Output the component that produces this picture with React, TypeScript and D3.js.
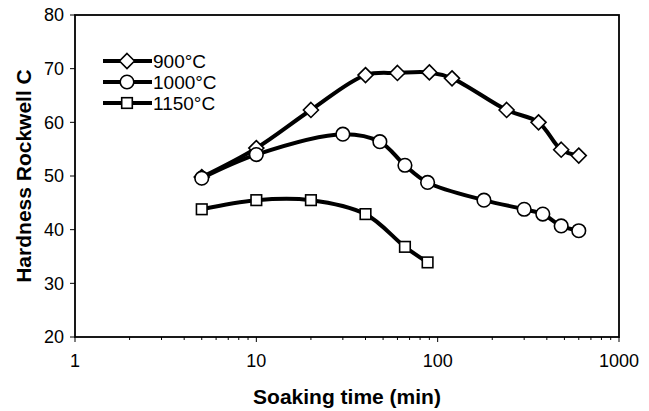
import React from "react";
import * as d3 from "d3";

const seriesNames = ["900°C", "1000°C", "1150°C"];
const markerTypes = ["diamond", "circle", "square"];

const time900 = [5, 10, 20, 40, 60, 90, 120, 240, 360, 480, 600];
const hard900 = [49.8, 55.2, 62.3, 68.8, 69.2, 69.3, 68.2, 62.3, 60.0, 54.9, 53.8];

const time1000 = [5, 10, 30, 48, 66, 88, 180, 300, 380, 480, 600];
const hard1000 = [49.6, 54.0, 57.8, 56.4, 52.0, 48.8, 45.5, 43.8, 42.9, 40.7, 39.8];

const time1150 = [5, 10, 20, 40, 66, 88];
const hard1150 = [43.8, 45.5, 45.5, 42.9, 36.8, 33.9];

const xTicks = [1, 10, 100, 1000];
const yTicks = [20, 30, 40, 50, 60, 70, 80];

const W = 649;
const H = 411;
const M = { left: 75, right: 619, top: 15, bottom: 337 };
const FONT = "'Liberation Sans', Arial, Helvetica, sans-serif";

function Marker({ type, x, y }: { type: string; x: number; y: number }) {
  const common = { fill: "#fff", stroke: "#000", strokeWidth: 1.6 };
  if (type === "diamond") {
    const r = 7.5;
    return (
      <path
        d={`M${x},${y - r}L${x + r},${y}L${x},${y + r}L${x - r},${y}Z`}
        {...common}
      />
    );
  }
  if (type === "circle") {
    return <circle cx={x} cy={y} r={6.8} {...common} />;
  }
  const s = 5.3;
  return <rect x={x - s} y={y - s} width={2 * s} height={2 * s} {...common} />;
}

export default function App() {
  const x = d3.scaleLog().domain([1, 1000]).range([M.left, M.right]);
  const y = d3.scaleLinear().domain([20, 80]).range([M.bottom, M.top]);

  const series = [
    { t: time900, v: hard900 },
    { t: time1000, v: hard1000 },
    { t: time1150, v: hard1150 },
  ];

  const line = d3
    .line<[number, number]>()
    .x((d) => x(d[0]))
    .y((d) => y(d[1]))
    .curve(d3.curveCatmullRom.alpha(0.5));

  const minor: number[] = [];
  for (let dec = 1; dec < 1000; dec *= 10) {
    for (let k = 2; k <= 9; k++) minor.push(dec * k);
  }

  const legendY = [61, 82, 103];

  return (
    <svg
      width={W}
      height={H}
      style={{ position: "absolute", left: 0, top: 0, background: "#fff" }}
      fontFamily={FONT}
    >
      <rect x={0} y={0} width={W} height={H} fill="#fff" />
      <rect
        x={M.left}
        y={M.top}
        width={M.right - M.left}
        height={M.bottom - M.top}
        fill="none"
        stroke="#000"
        strokeWidth={1.8}
      />
      {yTicks.map((t) => (
        <g key={"y" + t}>
          <line x1={M.left - 5} x2={M.left} y1={y(t)} y2={y(t)} stroke="#000" strokeWidth={1} />
          <text x={M.left - 11} y={y(t)} dy="0.35em" textAnchor="end" fontSize={18} fill="#000">
            {t}
          </text>
        </g>
      ))}
      {minor.map((t) => (
        <line key={"m" + t} x1={x(t)} x2={x(t)} y1={M.bottom} y2={M.bottom + 3} stroke="#000" strokeWidth={1} />
      ))}
      {xTicks.map((t) => (
        <g key={"x" + t}>
          <line x1={x(t)} x2={x(t)} y1={M.bottom} y2={M.bottom + 5} stroke="#000" strokeWidth={1} />
          <text x={x(t)} y={367} textAnchor="middle" fontSize={18} fill="#000">
            {t}
          </text>
        </g>
      ))}
      <text
        x={(M.left + M.right) / 2}
        y={404}
        textAnchor="middle"
        fontSize={21}
        fontWeight="bold"
        fill="#000"
      >
        Soaking time (min)
      </text>
      <text
        transform={`translate(31,${(M.top + M.bottom) / 2}) rotate(-90)`}
        textAnchor="middle"
        fontSize={21}
        fontWeight="bold"
        fill="#000"
      >
        Hardness Rockwell C
      </text>
      {series.map((s, i) => (
        <path
          key={"l" + i}
          d={line(s.t.map((t, j) => [t, s.v[j]] as [number, number])) || ""}
          fill="none"
          stroke="#000"
          strokeWidth={4}
          strokeLinejoin="round"
        />
      ))}
      {series.map((s, i) =>
        s.t.map((t, j) => (
          <Marker key={`p${i}-${j}`} type={markerTypes[i]} x={x(t)} y={y(s.v[j])} />
        ))
      )}
      {seriesNames.map((n, i) => (
        <g key={"lg" + i}>
          <line x1={103} x2={152} y1={legendY[i]} y2={legendY[i]} stroke="#000" strokeWidth={4} />
          <Marker type={markerTypes[i]} x={127} y={legendY[i]} />
          <text x={153} y={legendY[i]} dy="0.36em" fontSize={19} fill="#000">
            {n}
          </text>
        </g>
      ))}
    </svg>
  );
}
